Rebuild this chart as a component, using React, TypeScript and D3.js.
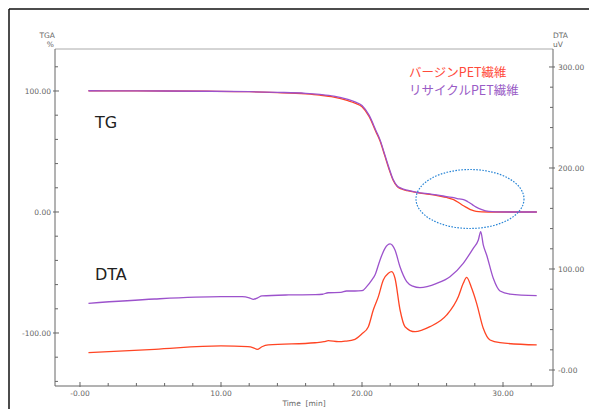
import React from 'react';
import * as d3 from 'd3';

const W = 589;
const H = 409;

// TG (%) – time in minutes
const tgTime = [0.6, 3, 6, 9, 12, 14, 16, 17, 18, 19, 19.5, 20, 20.5, 21, 21.3, 21.6, 21.9, 22.2, 22.5, 22.8, 23.2, 23.9, 24.8, 25.5, 26, 26.5, 26.9, 27.2, 27.5, 27.8, 28.1, 28.5, 29, 29.5, 30.5, 32.4];
const tgVirgin = [100.2, 100.1, 100, 99.8, 99.4, 98.7, 97.6, 96.6, 95, 92, 90, 87, 79, 66, 58, 47, 36, 26.5, 21, 19, 17.6, 16, 14.6, 13.2, 12, 10.2, 7.4, 5.2, 3.2, 1.5, 0.5, 0.1, 0, 0, 0, 0];
const tgRecycled = [100.2, 100.1, 100, 99.8, 99.4, 98.9, 98.1, 97.2, 95.8, 93, 91, 88, 80, 67, 59, 48, 37, 27, 21.5, 19.5, 18, 16.2, 14.9, 13.8, 12.7, 11.8, 10.8, 10.3, 8.5, 6.3, 4.0, 2.0, 0.5, 0.1, 0, 0];

// DTA (uV)
const dtaRecTime = [0.6, 5.3, 10, 11.5, 12.0, 12.3, 12.6, 12.9, 14.8, 16.7, 17.2, 17.6, 18.5, 18.9, 19.5, 20.0, 20.33, 20.69, 20.92, 21.28, 21.63, 21.99, 22.34, 22.7, 23.17, 23.6, 24.11, 25.3, 26.24, 27.18, 27.89, 28.25, 28.42, 28.6, 28.84, 29.31, 29.79, 30.5, 32.39];
const dtaRecycled = [66, 70.3, 72.6, 72.6, 71.5, 70, 71.5, 73.3, 74.3, 74.6, 75, 76.5, 76.8, 78.2, 78.2, 78.5, 82.5, 89, 94, 109, 120.5, 124.8, 118.8, 102, 87.5, 83, 81.5, 85.8, 92.4, 105.6, 120.5, 128.7, 137, 123.8, 113.9, 90.8, 78.2, 75.2, 73.6];
const dtaVirTime = [0.6, 5.3, 10, 11.9, 12.3, 12.57, 12.9, 13.35, 16.67, 17.3, 17.61, 18.32, 18.8, 19.5, 19.98, 20.45, 20.8, 21.16, 21.51, 21.87, 22.11, 22.34, 22.7, 23.05, 23.76, 24.82, 26.01, 26.83, 27.18, 27.42, 27.78, 28.13, 28.6, 29.08, 29.79, 32.39];
const dtaVirgin = [17.2, 20.5, 23.8, 23.1, 22, 20.5, 23, 24.8, 27, 28, 29, 28, 28.5, 30.4, 35.6, 42.9, 59.4, 72.6, 89, 95.7, 97.3, 90.8, 59.4, 42.9, 37.9, 42.9, 54.5, 72.6, 85.8, 91.8, 80.9, 66, 41.3, 29.7, 27, 24.8];

const leftMajor = [-100, 0, 100];
const leftLabels = ['-100.00', '0.00', '100.00'];
const rightMajor = [0, 100, 200, 300];
const rightLabels = ['-0.00', '100.00', '200.00', '300.00'];
const xMajor = [0, 10, 20, 30];
const xLabels = ['-0.00', '10.00', '20.00', '30.00'];

const legendNames = ['バージンPET繊維', 'リサイクルPET繊維'];
const RED = '#ff4524';
const PURPLE = '#9c52cc';

export default function App() {
  const L = 55, R = 553, T = 49, B = 386;
  const x = d3.scaleLinear().domain([-1.773, 33.546]).range([L, R]);
  const yL = d3.scaleLinear().domain([-143.8, 134.7]).range([B, T]);
  const yR = d3.scaleLinear().domain([-15.84, 317.8]).range([B, T]);

  const mk = (ts: number[], vs: number[], y: d3.ScaleLinear<number, number>) =>
    d3.line<number>().x((_, i) => x(ts[i])).y((v) => y(v)).curve(d3.curveMonotoneX)(vs) || '';

  const leftMinor = d3.range(-140, 121, 20).filter((v) => !leftMajor.includes(v));
  const rightMinor = d3.range(0, 301, 20).filter((v) => !rightMajor.includes(v));
  const xMinor = d3.range(2, 34, 2).filter((v) => !xMajor.includes(v));

  const axisColor = '#666';
  const tickFont = { fontFamily: 'DejaVu Sans, sans-serif', fontSize: 7.5, fill: '#666' } as const;

  return (
    <svg width={W} height={H} style={{ position: 'absolute', left: 0, top: 0, background: '#fff' }}>
      <rect x={0} y={0} width={W} height={H} fill="#fff" />
      {/* outer frame */}
      <line x1={9} y1={9} x2={W} y2={9} stroke="#111" strokeWidth={1.5} />
      <line x1={9} y1={9} x2={9} y2={H} stroke="#111" strokeWidth={1.5} />

      {/* plot frame */}
      <line x1={L} y1={T} x2={R} y2={T} stroke="#aaa" strokeWidth={1} />
      <line x1={L} y1={T} x2={L} y2={B} stroke={axisColor} strokeWidth={1} />
      <line x1={R} y1={T} x2={R} y2={B} stroke={axisColor} strokeWidth={1} />
      <line x1={L} y1={B} x2={R} y2={B} stroke={axisColor} strokeWidth={1} />

      {/* left axis */}
      {leftMinor.map((v) => (
        <line key={'lm' + v} x1={L} x2={L + 3} y1={yL(v)} y2={yL(v)} stroke={axisColor} />
      ))}
      {leftMajor.map((v, i) => (
        <g key={'lM' + v}>
          <line x1={L - 2} x2={L + 4} y1={yL(v)} y2={yL(v)} stroke={axisColor} />
          <text x={L - 4} y={yL(v) + 3} textAnchor="end" {...tickFont}>{leftLabels[i]}</text>
        </g>
      ))}
      <text x={L} y={38} textAnchor="end" {...tickFont}>TGA</text>
      <text x={L - 1} y={47} textAnchor="end" {...tickFont}>%</text>

      {/* right axis */}
      {rightMinor.map((v) => (
        <line key={'rm' + v} x1={R - 3} x2={R} y1={yR(v)} y2={yR(v)} stroke={axisColor} />
      ))}
      {rightMajor.map((v, i) => (
        <g key={'rM' + v}>
          <line x1={R - 4} x2={R + 2} y1={yR(v)} y2={yR(v)} stroke={axisColor} />
          <text x={R + 5} y={yR(v) + 3} textAnchor="start" {...tickFont}>{rightLabels[i]}</text>
        </g>
      ))}
      <text x={R} y={38} textAnchor="start" {...tickFont}>DTA</text>
      <text x={R} y={47} textAnchor="start" {...tickFont}>uV</text>

      {/* bottom axis */}
      {xMinor.map((v) => (
        <line key={'xm' + v} x1={x(v)} x2={x(v)} y1={B} y2={B - 3} stroke={axisColor} />
      ))}
      {xMajor.map((v, i) => (
        <g key={'xM' + v}>
          <line x1={x(v)} x2={x(v)} y1={B + 1} y2={B - 4} stroke={axisColor} />
          <text x={x(v)} y={B + 10} textAnchor="middle" {...tickFont}>{xLabels[i]}</text>
        </g>
      ))}
      <text x={304} y={406} textAnchor="middle" {...tickFont} style={{ whiteSpace: 'pre' }}>{'Time  [min]'}</text>

      {/* curves */}
      <path d={mk(dtaVirTime, dtaVirgin, yR)} fill="none" stroke={RED} strokeWidth={1.3} />
      <path d={mk(dtaRecTime, dtaRecycled, yR)} fill="none" stroke={PURPLE} strokeWidth={1.3} />
      <path d={mk(tgTime, tgVirgin, yL)} fill="none" stroke={RED} strokeWidth={1.3} />
      <path d={mk(tgTime, tgRecycled, yL)} fill="none" stroke={PURPLE} strokeWidth={1.3} />

      {/* annotations */}
      <text x={95} y={128} fontFamily="DejaVu Sans, sans-serif" fontSize={16} fill="#222">TG</text>
      <text x={95} y={280} fontFamily="DejaVu Sans, sans-serif" fontSize={16} fill="#222">DTA</text>
      <ellipse cx={470} cy={199} rx={54} ry={29.5} fill="none" stroke="#2a86d6" strokeWidth={1.2} strokeDasharray="1.6,1.4" />

      {/* legend */}
      <text x={409} y={77} fontFamily="Noto Sans CJK JP, sans-serif" fontSize={12.5} fill="#ff4a3a">{legendNames[0]}</text>
      <text x={409} y={95} fontFamily="Noto Sans CJK JP, sans-serif" fontSize={12.5} fill="#9a5cc6">{legendNames[1]}</text>
    </svg>
  );
}
